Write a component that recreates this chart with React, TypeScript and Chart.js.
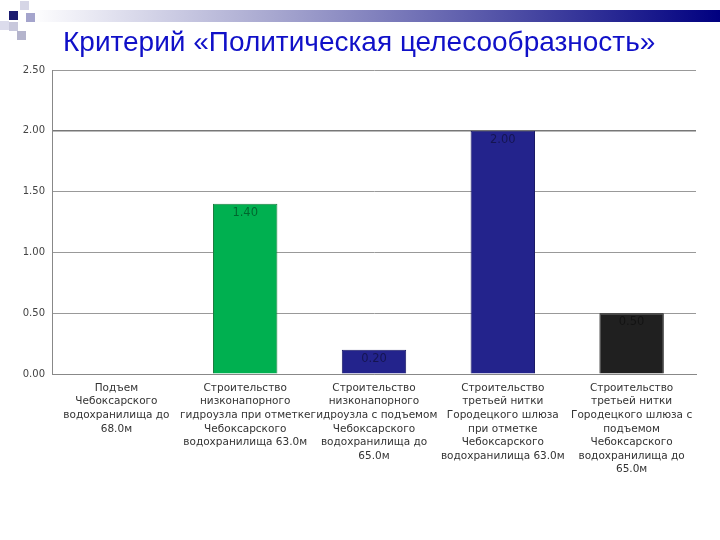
import React, { useEffect, useRef } from "react";
import { Chart, registerables } from "chart.js";

Chart.register(...registerables);

const titleText = "Критерий «Политическая целесообразность»";
const categories: string[][] = [
  ["Подъем", "Чебоксарского", "водохранилища до", "68.0м"],
  ["Строительство", "низконапорного", "гидроузла при отметке", "Чебоксарского", "водохранилища 63.0м"],
  ["Строительство", "низконапорного", "гидроузла с подъемом", "Чебоксарского", "водохранилища до", "65.0м"],
  ["Строительство", "третьей нитки", "Городецкого шлюза", "при отметке", "Чебоксарского", "водохранилища 63.0м"],
  ["Строительство", "третьей нитки", "Городецкого шлюза с", "подъемом", "Чебоксарского", "водохранилища до", "65.0м"],
];
const values: number[] = [0, 1.4, 0.2, 2.0, 0.5];
const barColors: string[] = ["#00B050", "#00B050", "#23238C", "#23238C", "#202020"];
const barBorders: string[] = ["#1c7d40", "#1c7d40", "#1a1a66", "#1a1a66", "#111111"];

const headerPlugin = {
  id: "header",
  beforeDraw(chart: any) {
    const ctx = chart.ctx as CanvasRenderingContext2D;
    ctx.save();
    ctx.fillStyle = "#ffffff";
    ctx.fillRect(0, 0, chart.width, chart.height);
    const g = ctx.createLinearGradient(30, 0, 720, 0);
    g.addColorStop(0, "rgba(255,255,255,1)");
    g.addColorStop(0.35, "#a8a8d0");
    g.addColorStop(1, "#000080");
    ctx.fillStyle = g;
    ctx.fillRect(30, 10, 690, 12);
    const sq: [number, number, string][] = [
      [20, 1, "#d6d6e6"],
      [0, 21, "#dcdcec"],
      [26, 13, "#a4a4cc"],
      [9, 22, "#c8c8dc"],
      [17, 31, "#b4b4cc"],
      [9, 11, "#1c1c70"],
    ];
    for (const [x, y, c] of sq) {
      ctx.fillStyle = c;
      ctx.fillRect(x, y, 9, 9);
    }
    ctx.fillStyle = "#1010C8";
    ctx.font = "28px 'Liberation Sans', Arial, sans-serif";
    ctx.textBaseline = "alphabetic";
    ctx.textAlign = "left";
    ctx.fillText(titleText, 63, 51);
    ctx.restore();
  },
};

const labelPlugin = {
  id: "valueLabels",
  afterDatasetsDraw(chart: any) {
    const ctx = chart.ctx as CanvasRenderingContext2D;
    const meta = chart.getDatasetMeta(0);
    ctx.save();
    ctx.font = "11.5px 'DejaVu Sans', sans-serif";
    ctx.textAlign = "center";
    ctx.textBaseline = "middle";
    ctx.fillStyle = "rgba(0,0,0,0.42)";
    meta.data.forEach((bar: any, i: number) => {
      const v = values[i];
      if (!v) return;
      ctx.fillText(v.toFixed(2), bar.x, bar.y + 9);
    });
    ctx.restore();
  },
};

export default function App() {
  const ref = useRef<HTMLCanvasElement | null>(null);
  useEffect(() => {
    if (!ref.current) return;
    const chart = new Chart(ref.current, {
      type: "bar",
      data: {
        labels: categories,
        datasets: [
          {
            data: values,
            backgroundColor: barColors,
            borderColor: barBorders,
            borderWidth: 1,
            barPercentage: 0.5,
            categoryPercentage: 1,
          },
        ],
      },
      options: {
        responsive: false,
        animation: false,
        layout: { padding: { left: 0, top: 70, right: 24, bottom: 0 } },
        plugins: { legend: { display: false }, tooltip: { enabled: false } },
        scales: {
          x: {
            grid: { display: false, drawTicks: false },
            border: { color: "#888888", width: 1 },
            ticks: {
              color: "#333333",
              font: { family: "'DejaVu Sans', sans-serif", size: 10.5, lineHeight: 1.3 },
              padding: 7,
              maxRotation: 0,
              minRotation: 0,
              autoSkip: false,
            },
            afterFit: (s: any) => {
              s.height = 166;
            },
          },
          y: {
            min: 0,
            max: 2.5,
            grid: {
              color: (c: any) => (c.tick && c.tick.value === 2 ? "#777777" : "#999999"),
              lineWidth: (c: any) => (c.tick && c.tick.value === 2 ? 1.5 : 1),
              drawTicks: false,
            },
            border: { color: "#888888", width: 1 },
            ticks: {
              stepSize: 0.5,
              color: "#444444",
              padding: 7,
              font: { family: "'DejaVu Sans', sans-serif", size: 10 },
              callback: (v: any) => Number(v).toFixed(2),
            },
            afterFit: (s: any) => {
              s.width = 52;
            },
          },
        },
      },
      plugins: [headerPlugin, labelPlugin],
    });
    return () => chart.destroy();
  }, []);
  return (
    <div style={{ position: "absolute", left: 0, top: 0, width: 720, height: 540 }}>
      <canvas ref={ref} width={720} height={540} style={{ display: "block" }} />
    </div>
  );
}
